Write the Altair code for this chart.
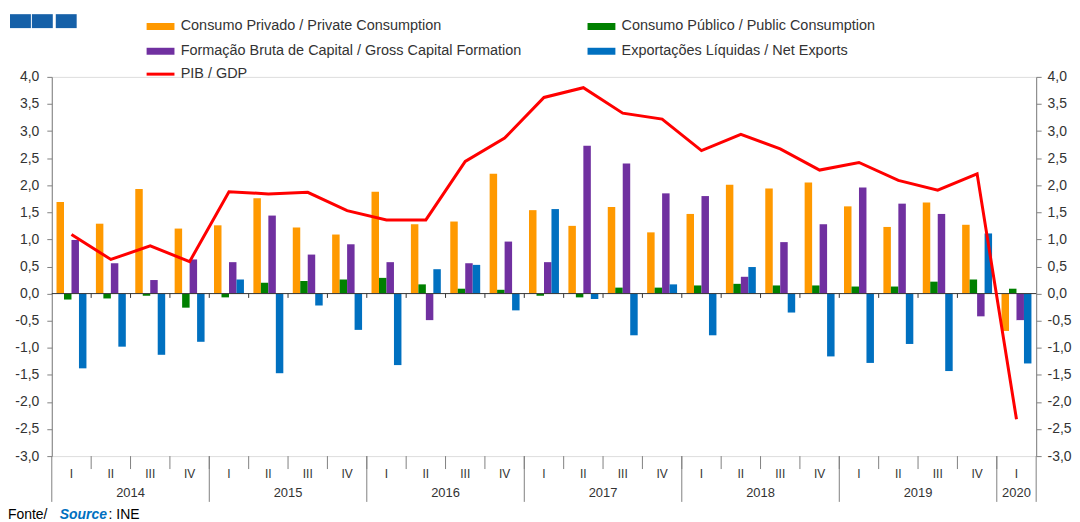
import altair as alt
import pandas as pd

# ---------------- data ----------------
quarter_labels = ["I", "II", "III", "IV"] * 6 + ["I"]
years = ["2014", "2015", "2016", "2017", "2018", "2019", "2020"]
year_quarters = [4, 4, 4, 4, 4, 4, 1]

series_names = [
    "Consumo Privado / Private Consumption",
    "Consumo Público / Public Consumption",
    "Formação Bruta de Capital / Gross Capital Formation",
    "Exportações Líquidas / Net Exports",
]
series_colors = ["#FF9900", "#008000", "#7030A0", "#0070C0"]

private_consumption = [1.69, 1.29, 1.93, 1.20, 1.26, 1.76, 1.22, 1.09, 1.88, 1.28, 1.33, 2.21, 1.54,
                       1.25, 1.60, 1.13, 1.47, 2.01, 1.94, 2.05, 1.61, 1.23, 1.68, 1.27, -0.69]
public_consumption = [-0.11, -0.09, -0.04, -0.26, -0.07, 0.20, 0.23, 0.26, 0.29, 0.17, 0.09, 0.07, -0.04,
                      -0.07, 0.11, 0.11, 0.15, 0.18, 0.15, 0.15, 0.13, 0.13, 0.22, 0.26, 0.09]
gross_capital = [0.99, 0.56, 0.25, 0.63, 0.58, 1.44, 0.72, 0.91, 0.58, -0.49, 0.56, 0.96, 0.58,
                 2.73, 2.40, 1.85, 1.80, 0.31, 0.95, 1.28, 1.96, 1.66, 1.47, -0.42, -0.49]
net_exports = [-1.38, -0.98, -1.13, -0.89, 0.26, -1.47, -0.22, -0.67, -1.32, 0.45, 0.53, -0.31, 1.56,
               -0.10, -0.77, 0.17, -0.77, 0.49, -0.35, -1.16, -1.28, -0.93, -1.43, 1.11, -1.29]
gdp = [1.09, 0.63, 0.88, 0.59, 1.88, 1.84, 1.87, 1.53, 1.36, 1.36, 2.44, 2.87, 3.62,
       3.80, 3.33, 3.22, 2.64, 2.94, 2.67, 2.28, 2.42, 2.09, 1.91, 2.21, -2.32]

y_ticks = [-3.0, -2.5, -2.0, -1.5, -1.0, -0.5, 0.0, 0.5, 1.0, 1.5, 2.0, 2.5, 3.0, 3.5, 4.0]

# ---------------- layout ----------------
W, H = 989, 381
N = len(quarter_labels)
FONT = "Liberation Sans"
AXIS_GRAY = "#808080"
TEXT = "#333333"

# ---------------- tables ----------------
rows = []
for k, vals in enumerate([private_consumption, public_consumption, gross_capital, net_exports]):
    for q, v in enumerate(vals):
        rows.append({"q": q, "k": k, "series": series_names[k], "value": v})
bars_df = pd.DataFrame(rows)

gdp_df = pd.DataFrame({"q": list(range(N)), "gdp": gdp, "name": "PIB / GDP"})
qlab_df = pd.DataFrame({"q": list(range(N)), "label": quarter_labels})
qsep_df = pd.DataFrame({"b": list(range(1, N))})

ystart = []
s = 0
for n in year_quarters:
    ystart.append(s)
    s += n
year_df = pd.DataFrame({"year": years, "start": ystart, "n": year_quarters})
ysep_df = pd.DataFrame({"b": ystart + [N]})

xscale = alt.Scale(domain=[0, N], nice=False, zero=False)
yscale = alt.Scale(domain=[-3, 4], nice=False, zero=False)

label_expr = "(datum.value < 0 ? '-' : '') + replace(format(abs(datum.value), '.1f'), '.', ',')"


def yaxis(orient, pad):
    return alt.Axis(orient=orient, values=y_ticks, labelExpr=label_expr, title=None, grid=False,
                    domainColor=AXIS_GRAY, tickColor=AXIS_GRAY, tickSize=5, labelPadding=pad,
                    labelColor=TEXT, labelFont=FONT, labelFontSize=14)


bars = alt.Chart(bars_df).transform_calculate(
    x0="datum.q + 0.12 + 0.19 * datum.k",
    x1="datum.q + 0.12 + 0.19 * (datum.k + 1)",
).mark_bar().encode(
    x=alt.X("x0:Q", scale=xscale, axis=None),
    x2="x1:Q",
    y=alt.Y("value:Q", scale=yscale, axis=yaxis("left", 8)),
    y2=alt.datum(0),
    color=alt.Color("series:N", scale=alt.Scale(domain=series_names, range=series_colors),
                    legend=alt.Legend(orient="none", legendX=102, legendY=-58, columns=2,
                                      direction="horizontal",
                                      title=None, symbolType="M-2.8,-0.7H2.8V0.7H-2.8Z",
                                      symbolSize=100, symbolStrokeWidth=0, labelOffset=13,
                                      columnPadding=66, rowPadding=10, padding=0,
                                      labelFont=FONT, labelFontSize=14.5, labelColor=TEXT,
                                      labelLimit=500)),
)

zero_line = alt.Chart(pd.DataFrame({"z": [0]})).mark_rule(color="#333333", strokeWidth=1).encode(
    y=alt.Y("z:Q", scale=yscale, axis=None),
    x=alt.value(0),
    x2=alt.value(W),
)

zero_ticks = alt.Chart(qsep_df).transform_calculate(top="0", bot="-0.08").mark_rule(
    color="#333333", strokeWidth=1).encode(
    x=alt.X("b:Q", scale=xscale, axis=None),
    y=alt.Y("top:Q", scale=yscale, axis=None),
    y2="bot:Q",
)

line = alt.Chart(gdp_df).transform_calculate(xc="datum.q + 0.5").mark_line(strokeWidth=3).encode(
    x=alt.X("xc:Q", scale=xscale, axis=None),
    y=alt.Y("gdp:Q", scale=yscale, axis=yaxis("right", 6)),
    stroke=alt.Stroke("name:N", scale=alt.Scale(domain=["PIB / GDP"], range=["#FF0000"]),
                      legend=alt.Legend(orient="none", legendX=102, legendY=-10, title=None,
                                        symbolType="M-2.8,0H2.8", symbolSize=100,
                                        symbolStrokeWidth=3, labelOffset=13, padding=0,
                                        labelFont=FONT, labelFontSize=14.5, labelColor=TEXT)),
)

qsep = alt.Chart(qsep_df).mark_rule(color=AXIS_GRAY).encode(
    x=alt.X("b:Q", scale=xscale, axis=None),
    y=alt.value(H),
    y2=alt.value(H + 13),
)

ysep = alt.Chart(ysep_df).mark_rule(color=AXIS_GRAY).encode(
    x=alt.X("b:Q", scale=xscale, axis=None),
    y=alt.value(H),
    y2=alt.value(H + 46),
)

qlab = alt.Chart(qlab_df).transform_calculate(xc="datum.q + 0.5").mark_text(
    font=FONT, fontSize=12, color=TEXT, baseline="middle").encode(
    x=alt.X("xc:Q", scale=xscale, axis=None),
    y=alt.value(H + 18),
    text="label:N",
)

ylab = alt.Chart(year_df).transform_calculate(xc="datum.start + datum.n / 2").mark_text(
    font=FONT, fontSize=13, color=TEXT, baseline="middle").encode(
    x=alt.X("xc:Q", scale=xscale, axis=None),
    y=alt.value(H + 37),
    text="year:N",
)

one = pd.DataFrame({"a": [0]})
src1 = alt.Chart(one).mark_text(font=FONT, fontSize=14, color="#000000",
                                align="left", baseline="middle").encode(
    x=alt.value(-44), y=alt.value(H + 59), text=alt.value("Fonte/"))
src2 = alt.Chart(one).mark_text(font=FONT, fontSize=14, color="#0070C0",
                                fontStyle="italic", fontWeight="bold", align="left",
                                baseline="middle").encode(
    x=alt.value(8), y=alt.value(H + 59), text=alt.value("Source"))
src3 = alt.Chart(one).mark_text(font=FONT, fontSize=14, color="#000000",
                                align="left", baseline="middle").encode(
    x=alt.value(57), y=alt.value(H + 59), text=alt.value(": INE"))

logo = [
    alt.Chart(one).mark_rect(color="#1560A8").encode(
        x=alt.value(x0), x2=alt.value(x0 + 21), y=alt.value(-63), y2=alt.value(-49))
    for x0 in [-42, -20, 4]
]

chart = alt.layer(
    bars, zero_line, zero_ticks, line, qsep, ysep, qlab, ylab, src1, src2, src3, *logo
).resolve_axis(y="independent").properties(
    width=W, height=H,
    autosize=alt.AutoSizeParams(type="none"),
    padding={"left": 44, "top": 68, "right": 36, "bottom": 65},
).configure_view(stroke=None).configure(background="white")

chart.save("out.html", embed_options={"renderer": "svg", "actions": False})
